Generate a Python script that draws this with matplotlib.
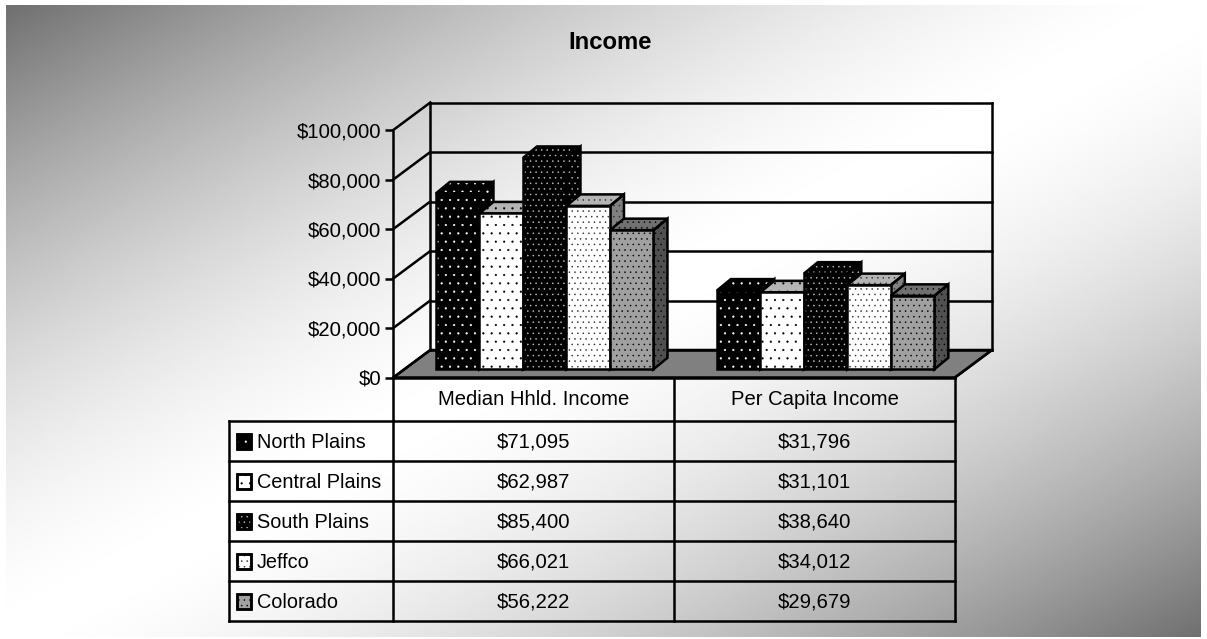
import numpy as np
import matplotlib
matplotlib.use("Agg")
import matplotlib.pyplot as plt
from matplotlib.patches import Polygon, Rectangle
from matplotlib.transforms import ScaledTranslation

plt.rcParams['font.family'] = ['Liberation Sans', 'DejaVu Sans']
plt.rcParams['hatch.linewidth'] = 0.35

title = "Income"
categories = ["Median Hhld. Income", "Per Capita Income"]
series_names = ["North Plains", "Central Plains", "South Plains", "Jeffco", "Colorado"]
north_plains = [71095, 31796]
central_plains = [62987, 31101]
south_plains = [85400, 38640]
jeffco = [66021, 34012]
colorado = [56222, 29679]
series_values = [north_plains, central_plains, south_plains, jeffco, colorado]
y_ticks = [0, 20000, 40000, 60000, 80000, 100000]

# (front, top, side, hatch colour, hatch)
styles = [
    ("#000000", "#000000", "#000000", "#ffffff", ".."),
    ("#ffffff", "#b4b4b4", "#808080", "#000000", ".."),
    ("#000000", "#000000", "#000000", "#c0c0c0", "..."),
    ("#ffffff", "#b4b4b4", "#808080", "#303030", "..."),
    ("#a0a0a0", "#707070", "#505050", "#000000", "..."),
]

W, H = 1207, 639
fig = plt.figure(figsize=(W / 100, H / 100), dpi=100, facecolor="white")

# overlay in pixel coordinates: background, table, title
pix = fig.add_axes([0, 0, 1, 1], zorder=0)
pix.axis("off")

X0, X1, Y0, Y1 = 6, 1201, 5, 637
xx, yy = np.meshgrid(np.linspace(0, 1, 400), np.linspace(0, 1, 220))
d = 1 - np.abs(xx + yy - 1)
bg = 112 + (255 - 112) * (1 - (1 - d) ** 1.6)
pix.imshow(bg, extent=(X0, X1, Y1, Y0), cmap="gray", vmin=0, vmax=255,
           aspect="auto", interpolation="bilinear", zorder=0)
pix.set_xlim(0, W)
pix.set_ylim(H, 0)

LW = 1.8
FS = 14.6
pix.text(610.5, 42.5, title, ha="center", va="center", fontsize=17.2, fontweight="bold")

# value axes: the front plane of the chart
FX0, FX1, FY0, FY1 = 393.3, 955, 377.5, 130
DX, DY = 37, 27.5  # plot depth
ax = fig.add_axes([FX0 / W, 1 - FY0 / H, (FX1 - FX0) / W, (FY0 - FY1) / H], zorder=1)
ax.patch.set_alpha(0)
ax.set_xlim(0, len(categories))
ax.set_ylim(0, 100000)
for s in ("top", "right", "bottom"):
    ax.spines[s].set_visible(False)
ax.spines["left"].set_linewidth(LW)
ax.set_xticks([])
ax.set_yticks(y_ticks)
ax.set_yticklabels([f"${v:,}" for v in y_ticks], fontsize=FS)
ax.tick_params(axis="y", length=6, width=LW, pad=2.5)

px_x = len(categories) / (FX1 - FX0)
px_y = 100000 / (FY0 - FY1)
dxd, dyd = DX * px_x, DY * px_y
kw = dict(color="black", lw=LW, clip_on=False, solid_capstyle="projecting")
# floor
ax.add_patch(Polygon([(0, 0), (2, 0), (2 + dxd, dyd), (dxd, dyd)], closed=True, fc="#808080",
                     ec="black", lw=LW, clip_on=False, zorder=1))
# walls and grid
for v in y_ticks:
    ax.plot([0, dxd], [v, v + dyd], zorder=1.5, **kw)
    ax.plot([dxd, 2 + dxd], [v + dyd, v + dyd], zorder=1.5, **kw)
ax.plot([dxd, dxd], [dyd, 100000 + dyd], zorder=1.5, **kw)
ax.plot([2 + dxd, 2 + dxd], [dyd, 100000 + dyd], zorder=1.5, **kw)
ax.plot([2, 2 + dxd], [0, dyd], zorder=1.5, **kw)
ax.plot([0, 2], [0, 0], zorder=1.5, **kw)

# bars, set back into the plot and given sides
shift = ax.transData + ScaledTranslation(11 / 100, 8.2 / 100, fig.dpi_scale_trans)
bw = 43.5 * px_x
bx, by = 14 * px_x, 11.5 * px_y
centres = np.arange(len(categories)) + 0.5
for i, (vals, st) in enumerate(zip(series_values, styles)):
    front, top, side, hc, hatch = st
    lefts = centres + (i - 2.5) * bw
    for g, (l, v) in enumerate(zip(lefts, vals)):
        z = 3 + i * 0.1 + g
        side_pts = [(l + bw, 0), (l + bw + bx, by), (l + bw + bx, v + by), (l + bw, v)]
        top_pts = [(l, v), (l + bx, v + by), (l + bw + bx, v + by), (l + bw, v)]
        ax.add_patch(Polygon(side_pts, closed=True, fc=side, ec=hc, hatch=hatch, lw=0, transform=shift,
                             clip_on=False, zorder=z))
        ax.add_patch(Polygon(top_pts, closed=True, fc=top, ec=hc, hatch=hatch, lw=0, transform=shift,
                             clip_on=False, zorder=z))
        for pts in (side_pts, top_pts):
            ax.add_patch(Polygon(pts, closed=True, fill=False, ec="black", lw=LW, transform=shift,
                                 clip_on=False, zorder=z + 0.01))
        ax.bar(l, v, width=bw, align="edge", color=front, edgecolor=hc, hatch=hatch, lw=0,
               transform=shift, clip_on=False, zorder=z + 0.02)
        ax.add_patch(Rectangle((l, 0), bw, v, fill=False, ec="black", lw=LW, transform=shift,
                               clip_on=False, zorder=z + 0.03))

# data table
TX = [229, 393.3, 674, 955]
TY = [378, 421, 461, 501, 541, 581, 621]
tk = dict(color="black", lw=LW, solid_capstyle="projecting", zorder=2)
for y in TY[1:]:
    pix.plot([TX[0], TX[3]], [y, y], **tk)
pix.plot([TX[0], TX[0]], [TY[1], TY[-1]], **tk)
for x in TX[1:]:
    pix.plot([x, x], [TY[0], TY[-1]], **tk)
for j, c in enumerate(categories):
    cx = (TX[j + 1] + TX[j + 2]) / 2
    pix.text(cx, (TY[0] + TY[1]) / 2, c, ha="center", va="center", fontsize=FS)
    for i, vals in enumerate(series_values):
        pix.text(cx, (TY[i + 1] + TY[i + 2]) / 2 + 0.5, f"${vals[j]:,}", ha="center", va="center", fontsize=FS)
for i, (name, st) in enumerate(zip(series_names, styles)):
    cy = (TY[i + 1] + TY[i + 2]) / 2
    pix.add_patch(Rectangle((236.5, cy - 7), 14.5, 15, fc=st[0], ec="black", lw=LW, zorder=3))
    pix.add_patch(Rectangle((236.5, cy - 7), 14.5, 15, fc="none", ec=st[3], hatch=st[4], lw=0, zorder=3.1))
    pix.add_patch(Rectangle((236.5, cy - 7), 14.5, 15, fc="none", ec="black", lw=LW, zorder=3.2))
    pix.text(257, cy + 1.5, name, ha="left", va="center", fontsize=14.35)

fig.savefig("out.png", dpi=100)
